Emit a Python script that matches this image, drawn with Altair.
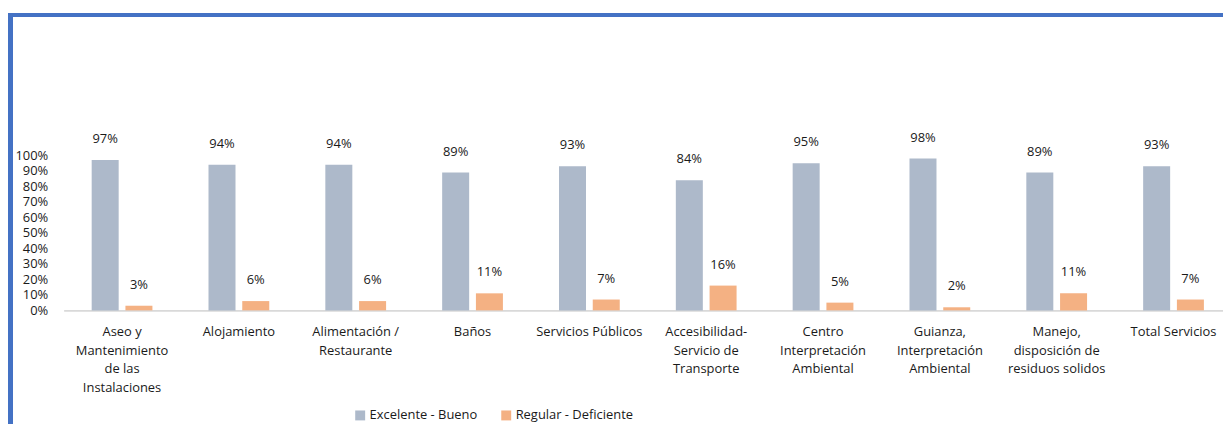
import altair as alt
import pandas as pd

categories = [
    "Aseo y\nMantenimiento\nde las\nInstalaciones",
    "Alojamiento",
    "Alimentación /\nRestaurante",
    "Baños",
    "Servicios Públicos",
    "Accesibilidad-\nServicio de\nTransporte",
    "Centro\nInterpretación\nAmbiental",
    "Guianza,\nInterpretación\nAmbiental",
    "Manejo,\ndisposición de\nresiduos solidos",
    "Total Servicios",
]
series = ["Excelente - Bueno", "Regular - Deficiente"]
excelente = [0.97, 0.94, 0.94, 0.89, 0.93, 0.84, 0.95, 0.98, 0.89, 0.93]
regular = [0.03, 0.06, 0.06, 0.11, 0.07, 0.16, 0.05, 0.02, 0.11, 0.07]
colors = ["#ADB9CA", "#F4B183"]

rows = []
for c, e, r in zip(categories, excelente, regular):
    rows.append({"cat": c, "serie": series[0], "val": e})
    rows.append({"cat": c, "serie": series[1], "val": r})
df = pd.DataFrame(rows)

FONT = "Open Sans"
TXT = "#1a1a1a"
W = 1167
H = 156
PAD_T = 147
PAD_B = 114

x_enc = alt.X(
    "cat:N", sort=categories, title=None,
    scale=alt.Scale(paddingInner=0.48, paddingOuter=0.24, range=[0, 1176]),
    axis=alt.Axis(
        labelAngle=0, labelExpr="split(datum.label, '\\n')",
        labelLineHeight=19, labelFontSize=13, labelFont=FONT, labelColor=TXT,
        labelBaseline="top", labelPadding=15, ticks=False,
        domainColor="#D9D9D9", domainWidth=2, labelLimit=200,
    ),
)
xoff = alt.XOffset("serie:N", sort=series, scale=alt.Scale(paddingInner=0.2, paddingOuter=0))
y_enc = alt.Y(
    "val:Q", title=None,
    scale=alt.Scale(domain=[0, 1]),
    axis=alt.Axis(
        format=".0%", values=[i / 10 for i in range(11)], grid=False, ticks=False,
        domain=False, labelFontSize=13, labelFont=FONT, labelColor=TXT, labelPadding=16,
    ),
)

base = alt.Chart(df)
bars = base.mark_bar().encode(
    x=x_enc, xOffset=xoff, y=y_enc,
    color=alt.Color(
        "serie:N", sort=series, scale=alt.Scale(domain=series, range=colors), title=None,
        legend=alt.Legend(
            orient="none", legendX=292, legendY=255, direction="horizontal",
            symbolType="square", symbolSize=100, symbolStrokeWidth=0,
            labelFontSize=13, labelFont=FONT, labelColor=TXT, columnPadding=22,
            labelOffset=3, padding=0,
        ),
    ),
)
labels = base.mark_text(dy=-21, baseline="middle", fontSize=13, font=FONT, color=TXT).encode(
    x=x_enc, xOffset=xoff, y=y_enc, text=alt.Text("val:Q", format=".0%"),
)

top_border = alt.Chart(df).mark_rule(color="#4472C4", strokeWidth=3).encode(
    x=alt.value(-56), x2=alt.value(W), y=alt.value(-141.5)
)
left_border = alt.Chart(df).mark_rule(color="#4472C4", strokeWidth=5).encode(
    x=alt.value(-53.5), y=alt.value(-143), y2=alt.value(H + PAD_B)
)

chart = alt.layer(bars, labels, top_border, left_border).properties(
    width=W, height=H,
    padding={"left": 56, "top": PAD_T, "right": 0, "bottom": PAD_B},
    autosize=alt.AutoSizeParams(type="none"),
).configure_view(stroke=None)

chart.save("out.html", embed_options={"renderer": "svg", "actions": False})
